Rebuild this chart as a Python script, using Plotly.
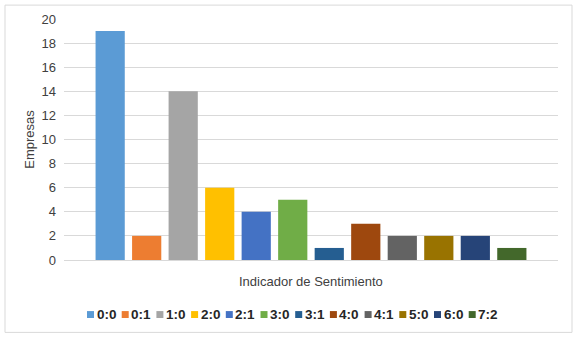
import plotly.graph_objects as go

categories = ["0:0", "0:1", "1:0", "2:0", "2:1", "3:0", "3:1", "4:0", "4:1", "5:0", "6:0", "7:2"]
values = [19, 2, 14, 6, 4, 5, 1, 3, 2, 2, 2, 1]
colors = ["#5B9BD5", "#ED7D31", "#A5A5A5", "#FFC000", "#4472C4", "#70AD47",
          "#255E91", "#9E480E", "#636363", "#997300", "#264478", "#43682B"]
y_ticks = list(range(0, 21, 2))

W, H = 579, 341
L, R, T, B = 64, 21, 17, 81
pw, ph = W - L - R, H - T - B

def px_x(p):
    return (p - L) / pw

def px_y(p):
    return (H - B - p) / ph

fig = go.Figure()
for cat, val, col in zip(categories, values, colors):
    fig.add_trace(go.Bar(x=["Indicador"], y=[val], name=cat, marker_color=col,
                         marker_line_width=0, showlegend=False))

font_family = "Liberation Sans, Arial, sans-serif"

fig.update_layout(
    width=W, height=H,
    margin=dict(l=L, r=R, t=T, b=B),
    paper_bgcolor="white", plot_bgcolor="white",
    barmode="group", bargap=0.113, bargroupgap=0.2,
    font=dict(family=font_family, color="#404040", size=12),
    xaxis=dict(range=[-0.5, 0.5], showticklabels=False, showgrid=False,
               showline=True, linecolor="#D9D9D9", linewidth=1, zeroline=False,
               ticks=""),
    yaxis=dict(range=[0, 20], tickvals=y_ticks, showgrid=True, gridcolor="#D9D9D9",
               gridwidth=1, zeroline=False, showline=False, ticks="",
               ticklabelstandoff=7,
               tickfont=dict(size=13, color="#404040"),
               title=dict(text="Empresas", font=dict(size=13, color="#404040"), standoff=3)),
)

# x-axis title
fig.add_annotation(text="Indicador de Sentimiento", xref="paper", yref="paper",
                   x=px_x(311), y=px_y(282), showarrow=False,
                   font=dict(size=13, color="#404040"), xanchor="center", yanchor="middle")

# custom legend
start, step = 87, 34.7
for i, (cat, col) in enumerate(zip(categories, colors)):
    x0 = start + i * step
    fig.add_shape(type="rect", xref="paper", yref="paper",
                  x0=px_x(x0), x1=px_x(x0 + 7), y0=px_y(318.5), y1=px_y(311.5),
                  fillcolor=col, line=dict(width=0))
    fig.add_annotation(text="<b>" + cat + "</b>", xref="paper", yref="paper",
                       x=px_x(x0 + 7.5), y=px_y(315), showarrow=False, xanchor="left",
                       yanchor="middle", font=dict(size=13.5, color="#262626"))

# chart border
fig.add_shape(type="rect", xref="paper", yref="paper",
              x0=px_x(5), x1=px_x(572), y0=px_y(333), y1=px_y(3),
              line=dict(color="#D9D9D9", width=1), fillcolor="rgba(0,0,0,0)", layer="below")

fig.write_html("out.html", config={"displayModeBar": False},
               post_script="document.body.style.margin='0';document.body.style.overflow='hidden';")
